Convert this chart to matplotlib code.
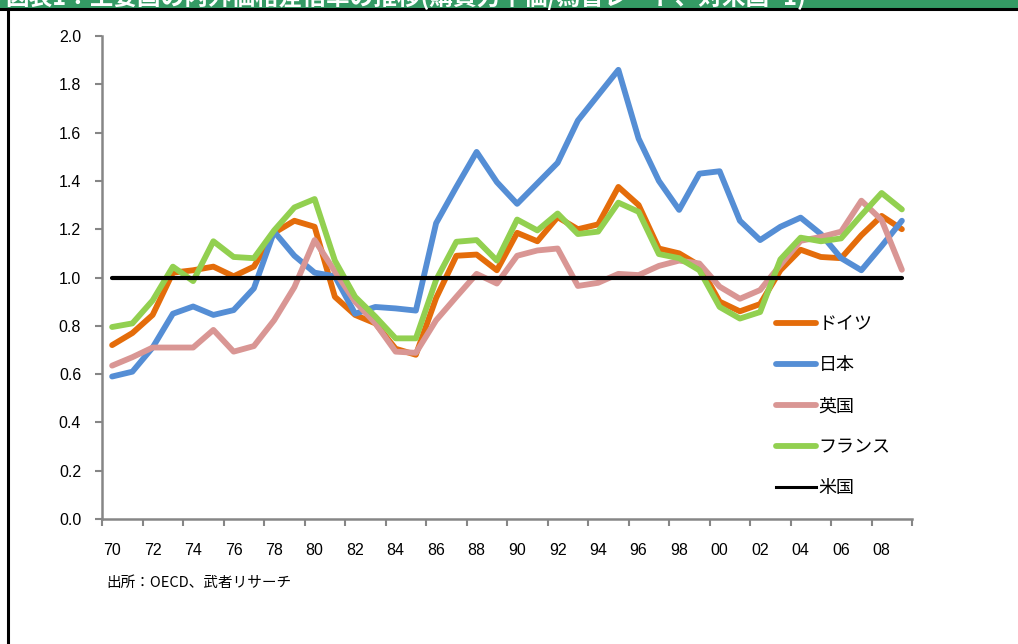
import numpy as np
import matplotlib
matplotlib.use('Agg')
import matplotlib.pyplot as plt
from matplotlib.lines import Line2D
from matplotlib.patches import Rectangle

plt.rcParams['font.family'] = ['Noto Sans CJK JP', 'DejaVu Sans']

years = list(range(1970, 2010))
year_labels = ['%02d' % (y % 100) for y in years]

germany = [0.72, 0.77, 0.845, 1.02, 1.03, 1.045, 1.005, 1.045, 1.185, 1.235,
           1.21, 0.92, 0.845, 0.81, 0.705, 0.68, 0.915, 1.09, 1.095, 1.03,
           1.185, 1.15, 1.25, 1.20, 1.22, 1.375, 1.30, 1.12, 1.10, 1.05,
           0.90, 0.86, 0.89, 1.03, 1.115, 1.085, 1.08, 1.175, 1.255, 1.20]
japan = [0.59, 0.61, 0.71, 0.85, 0.88, 0.845, 0.865, 0.955, 1.19, 1.09,
         1.02, 1.005, 0.85, 0.878, 0.872, 0.863, 1.225, 1.375, 1.52, 1.395,
         1.305, 1.39, 1.475, 1.65, 1.755, 1.86, 1.575, 1.40, 1.28, 1.43,
         1.44, 1.235, 1.155, 1.21, 1.248, 1.18, 1.08, 1.03, 1.13, 1.235]
uk = [0.635, 0.67, 0.71, 0.71, 0.71, 0.783, 0.693, 0.716, 0.823, 0.96,
      1.155, 1.025, 0.90, 0.81, 0.693, 0.688, 0.823, 0.92, 1.015, 0.975,
      1.09, 1.112, 1.12, 0.965, 0.978, 1.015, 1.01, 1.048, 1.07, 1.058,
      0.962, 0.912, 0.948, 1.052, 1.152, 1.168, 1.19, 1.318, 1.238, 1.032]
france = [0.795, 0.81, 0.905, 1.045, 0.985, 1.15, 1.085, 1.08, 1.195, 1.29,
          1.325, 1.07, 0.92, 0.838, 0.748, 0.748, 0.99, 1.148, 1.155, 1.07,
          1.24, 1.195, 1.265, 1.18, 1.19, 1.31, 1.272, 1.097, 1.08, 1.03,
          0.878, 0.83, 0.857, 1.075, 1.165, 1.15, 1.162, 1.258, 1.35, 1.282]
usa = [1.0] * len(years)

series = [
    ('ドイツ', germany, '#E46C0A', 4.2),
    ('日本', japan, '#558ED5', 4.2),
    ('英国', uk, '#D99694', 4.2),
    ('フランス', france, '#92D050', 4.2),
]

fig = plt.figure(figsize=(10.18, 6.44), dpi=100)
ax = fig.add_axes([102 / 1018, 125 / 644, 810 / 1018, 483 / 644])

x = np.arange(len(years))
for name, vals, color, lw in series:
    ax.plot(x, vals, color=color, lw=lw, solid_capstyle='round',
            solid_joinstyle='round', zorder=2)
ax.plot(x, usa, color='black', lw=3, solid_capstyle='round', zorder=3)

ax.set_xlim(-0.5, len(years) - 0.5)
ax.set_ylim(0, 2.0)
ax.set_yticks(np.arange(0, 2.01, 0.2))
ax.set_yticklabels(['%.1f' % v for v in np.arange(0, 2.01, 0.2)],
                   family=['Liberation Sans', 'DejaVu Sans'], fontsize=11.5)

# labels every other year, tick marks on category boundaries
ax.set_xticks(x[::2])
ax.set_xticklabels(year_labels[::2], fontsize=11.5,
                   family=['Liberation Sans Narrow', 'Liberation Sans'])
ax.set_xticks(np.arange(-0.5, len(years), 2), minor=True)
ax.tick_params(axis='x', which='major', length=0, pad=17)
ax.tick_params(axis='x', which='minor', length=5, color='#868686', width=1.5)
ax.tick_params(axis='y', length=5, color='#868686', width=1.5, pad=10)

for side in ['top', 'right']:
    ax.spines[side].set_visible(False)
for side in ['left', 'bottom']:
    ax.spines[side].set_color('#868686')
    ax.spines[side].set_linewidth(1.8)

handles = [Line2D([], [], color=c, lw=lw, solid_capstyle='round')
           for _, _, c, lw in series]
handles.append(Line2D([], [], color='black', lw=2.2))
labels = [s[0] for s in series] + ['米国']
ax.legend(handles, labels, loc='upper left', bbox_to_anchor=(0.812, 0.456),
          frameon=False, fontsize=13, handlelength=2.2, handletextpad=0.15,
          labelspacing=1.28)

fig.text(106 / 1018, 1 - 583 / 644, '出所：OECD、武者リサーチ', fontsize=10.5,
         va='center', ha='left')

# header band and frame
fig.patches.append(Rectangle((0, 1 - 8 / 644), 1, 8 / 644, transform=fig.transFigure,
                             color='#349A64', zorder=0))
fig.lines.append(Line2D([0, 1], [1 - 9 / 644, 1 - 9 / 644], transform=fig.transFigure,
                        color='black', lw=2.2))
fig.lines.append(Line2D([8 / 1018, 8 / 1018], [0, 1 - 9 / 644], transform=fig.transFigure,
                        color='black', lw=2.2))
fig.text(5 / 1018, 1 - 10 / 644, '図表1：主要国の内外価格差倍率の推移(購買力平価/為替レート、対米国=1)',
         color='white', fontsize=17, fontweight='bold', va='bottom', ha='left')

fig.savefig('out.png', dpi=100)
